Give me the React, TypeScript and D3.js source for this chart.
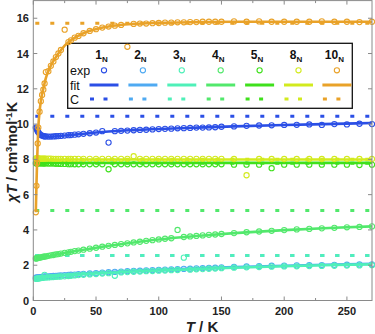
import React from 'react';
import * as d3 from 'd3';

// Temperatures (K) of the measured points
const temps = [2, 2.5, 3, 3.5, 4, 5, 6, 7, 8, 9,
  10, 12, 14, 16, 18, 20, 22, 25, 28, 30,
  33, 36, 40, 45, 50, 55, 60, 65, 70, 75,
  80, 85, 90, 95, 100, 105, 110, 115, 120, 125,
  130, 135, 140, 145, 150, 160, 170, 180, 190, 200,
  210, 220, 230, 240, 250, 260, 270];

const exp1N = [9.8, 9.75, 9.68, 9.6, 9.54, 9.45, 9.38, 9.35, 9.32, 9.3,
  9.3, 9.29, 9.29, 9.3, 9.31, 9.32, 9.33, 9.35, 9.37, 9.38,
  9.4, 9.42, 9.45, 9.48, 9.52, 9.6, 8.95, 9.6, 9.62, 9.63,
  9.65, 9.67, 9.68, 9.7, 9.72, 9.73, 9.74, 9.76, 9.77, 9.78,
  9.8, 9.8, 9.81, 9.82, 9.85, 9.87, 9.9, 9.92, 9.93, 9.95,
  9.96, 9.98, 9.95, 10.0, 9.98, 10.02, 10.0];

const exp2N = [1.29, 1.29, 1.3, 1.3, 1.31, 1.32, 1.33, 1.34, 1.35, 1.35,
  1.36, 1.37, 1.38, 1.39, 1.4, 1.41, 1.42, 1.44, 1.45, 1.46,
  1.47, 1.49, 1.51, 1.53, 1.55, 1.58, 1.6, 1.62, 1.64, 1.66,
  1.68, 1.69, 1.71, 1.72, 1.74, 1.75, 1.77, 1.78, 1.79, 1.8,
  1.82, 1.83, 1.85, 1.86, 1.88, 1.91, 1.93, 1.95, 1.97, 1.98,
  1.99, 2.0, 2.01, 2.02, 2.03, 2.04, 2.05];

const exp3N = [1.23, 1.23, 1.24, 1.24, 1.25, 1.26, 1.27, 1.28, 1.29, 1.45,
  1.3, 1.31, 1.32, 1.33, 1.34, 1.35, 1.36, 1.37, 1.39, 1.4,
  1.42, 1.44, 1.46, 1.48, 1.5, 1.53, 1.55, 1.4, 1.59, 1.61,
  1.63, 1.64, 1.66, 1.67, 1.69, 1.7, 1.72, 1.73, 2.43, 1.75,
  1.77, 1.78, 1.8, 1.81, 1.83, 1.86, 1.88, 1.9, 1.92, 1.93,
  1.94, 1.95, 1.96, 1.97, 1.98, 1.99, 2.0];

const exp4N = [2.38, 2.39, 2.4, 2.41, 2.42, 2.43, 2.45, 2.46, 2.48, 2.49,
  2.5, 2.53, 2.56, 2.58, 2.61, 2.63, 2.66, 2.7, 2.73, 2.76,
  2.8, 2.83, 2.88, 2.94, 2.99, 3.05, 3.1, 3.15, 3.2, 3.24,
  3.29, 3.33, 3.38, 3.42, 3.46, 3.5, 3.53, 4.0, 3.6, 3.63,
  3.66, 3.69, 3.72, 3.74, 3.77, 3.82, 3.87, 3.91, 3.95, 3.99,
  4.03, 4.06, 4.09, 4.12, 4.15, 4.17, 4.2];

const exp5N = [7.78, 7.78, 7.78, 7.78, 7.78, 7.78, 7.78, 7.77, 7.77, 7.77,
  7.77, 7.76, 7.76, 7.76, 7.75, 7.75, 7.74, 7.74, 7.73, 7.73,
  7.72, 7.72, 7.72, 7.72, 7.72, 7.72, 7.44, 7.72, 7.72, 7.72,
  7.72, 7.72, 7.72, 7.72, 7.72, 7.72, 7.72, 7.72, 7.72, 7.72,
  7.72, 7.72, 7.72, 7.72, 7.72, 7.7, 7.7, 7.7, 7.5, 7.7,
  7.7, 7.7, 7.7, 7.7, 7.7, 7.68, 7.7];

const exp8N = [8.05, 8.05, 8.05, 8.05, 8.05, 8.04, 8.04, 8.04, 8.04, 8.04,
  8.04, 8.04, 8.04, 8.03, 8.03, 8.03, 8.03, 8.03, 8.03, 8.03,
  8.03, 8.03, 8.03, 8.03, 8.03, 8.03, 8.03, 8.03, 8.03, 8.03,
  8.18, 8.03, 8.03, 8.03, 8.03, 8.03, 8.03, 8.03, 8.03, 8.03,
  8.03, 8.03, 8.03, 8.03, 8.03, 8.02, 7.1, 8.02, 8.02, 8.02,
  8.02, 8.02, 8.02, 8.02, 8.02, 8.02, 8.02];

const exp10N = [5.0, 6.5, 7.8, 8.9, 9.8, 10.7, 11.3, 11.65, 11.95, 12.3,
  12.95, 13.0, 13.3, 13.55, 13.8, 14.0, 14.2, 15.35, 14.65, 14.75,
  14.9, 15.0, 15.15, 15.28, 15.38, 15.47, 15.53, 15.58, 15.62, 14.38,
  15.68, 15.7, 15.7, 15.72, 15.73, 15.75, 15.75, 15.77, 15.77, 15.78,
  15.78, 15.8, 15.8, 15.8, 15.8, 15.82, 15.8, 15.82, 15.8, 15.8,
  15.8, 15.8, 15.82, 15.8, 15.8, 15.78, 15.8];

// Fit curves
const fitTemps = [2, 2.5, 3, 3.5, 4, 5, 6, 8, 10, 12, 15, 20, 25, 30, 40, 50, 60, 80, 100, 130, 160, 200, 240, 270];
const fit1N = [9.82, 9.75, 9.68, 9.6, 9.54, 9.45, 9.38, 9.32, 9.3, 9.29, 9.29, 9.32, 9.35, 9.38, 9.45, 9.52, 9.58, 9.66, 9.72, 9.8, 9.87, 9.95, 10.01, 10.06];
const fit2N = [1.3, 1.3, 1.31, 1.31, 1.32, 1.33, 1.34, 1.36, 1.37, 1.38, 1.4, 1.43, 1.46, 1.48, 1.53, 1.57, 1.61, 1.68, 1.74, 1.82, 1.89, 1.97, 2.04, 2.08];
const fit3N = [1.26, 1.26, 1.27, 1.27, 1.28, 1.29, 1.3, 1.32, 1.33, 1.34, 1.36, 1.39, 1.42, 1.44, 1.49, 1.53, 1.57, 1.64, 1.7, 1.78, 1.86, 1.94, 2.01, 2.05];
const fit4N = [2.38, 2.39, 2.4, 2.41, 2.42, 2.43, 2.45, 2.48, 2.5, 2.53, 2.57, 2.63, 2.7, 2.76, 2.88, 2.99, 3.1, 3.29, 3.46, 3.66, 3.82, 3.99, 4.12, 4.2];
const fit5N = [7.82, 7.82, 7.82, 7.82, 7.81, 7.81, 7.81, 7.81, 7.81, 7.8, 7.8, 7.8, 7.8, 7.8, 7.8, 7.8, 7.8, 7.8, 7.8, 7.8, 7.8, 7.8, 7.8, 7.8];
const fit8N = [8.0, 8.0, 8.0, 8.0, 8.0, 8.0, 8.0, 7.99, 7.99, 7.99, 7.99, 7.99, 7.99, 7.99, 7.99, 7.99, 7.99, 7.99, 7.99, 7.99, 7.99, 7.99, 7.99, 7.99];
const fit10N = [5.0, 6.5, 7.8, 8.9, 9.8, 10.7, 11.3, 12.0, 12.6, 13.0, 13.45, 14.0, 14.45, 14.75, 15.15, 15.38, 15.53, 15.68, 15.74, 15.78, 15.8, 15.8, 15.8, 15.8];

// Curie constants
const cValues = [10.45, 2.55, 2.55, 5.1, 7.78, 8.0, 15.72];

const seriesLabels = ['1', '2', '3', '4', '5', '8', '10'];
const seriesColors = ['#2b4fe6', '#4faaf2', '#4ff0b8', '#52e86c', '#3fe01c', '#d2ea1e', '#e9a229'];
const expSeries = [exp1N, exp2N, exp3N, exp4N, exp5N, exp8N, exp10N];
const fitSeries = [fit1N, fit2N, fit3N, fit4N, fit5N, fit8N, fit10N];

const xTicks = [0, 50, 100, 150, 200, 250];
const xMinorTicks = [25, 75, 125, 175, 225];
const yTicks = [0, 2, 4, 6, 8, 10, 12, 14, 16];

const FONT = '"Liberation Sans", Arial, sans-serif';

export default function App() {
  const W = 375;
  const H = 334;
  const x = d3.scaleLinear().domain([0, 270]).range([33.3, 372]);
  const y = d3.scaleLinear().domain([0, 17]).range([300.5, 0.6]);
  const line = d3
    .line<[number, number]>()
    .x((d) => x(d[0]))
    .y((d) => y(d[1]))
    .curve(d3.curveMonotoneX);

  const [x0, x1] = x.range();
  const [yb, yt] = y.range();

  // legend geometry
  const lgX0 = 67.7, lgY0 = 43.3, lgX1 = 352.3, lgY1 = 108.3;
  const colStart = 103.5, colStep = 38.9;

  return (
    <svg width={W} height={H} style={{ position: 'absolute', left: 0, top: 0, background: '#fff' }} fontFamily={FONT}>
      <rect x={0} y={0} width={W} height={H} fill="#fff" />
      {/* legend box */}
      <rect x={lgX0} y={lgY0} width={lgX1 - lgX0} height={lgY1 - lgY0} fill="#fff" stroke="#111" strokeWidth={1.3} />
      <text x={70} y={75} fontSize={12.5} fill="#111">exp</text>
      <text x={70} y={89.5} fontSize={12.5} fill="#111">fit</text>
      <text x={70} y={104} fontSize={12.5} fill="#111">C</text>
      {seriesLabels.map((lab, i) => {
        const cx = colStart + i * colStep + (i === 6 ? -0.5 : 0);
        return (
          <g key={'lg' + i}>
            <text x={cx - 2} y={58.5} fontSize={12} fontWeight="bold" textAnchor="middle" fill="#111">
              {lab}
              <tspan fontSize={8} dy={3}>N</tspan>
            </text>
            <circle cx={cx + 0.5} cy={70.3} r={2.6} fill="none" stroke={seriesColors[i]} strokeWidth={1.1} />
            <line x1={cx - 14} x2={cx + 15} y1={85} y2={85} stroke={seriesColors[i]} strokeWidth={3} />
            <line x1={cx - 13.5} x2={cx + 5} y1={99} y2={99} stroke={seriesColors[i]} strokeWidth={3} strokeDasharray="4 9.5" />
          </g>
        );
      })}

      {/* data */}
      {expSeries.map((vals, i) => {
        const col = seriesColors[i];
        const fitPts = fitTemps.map((t, k) => [t, fitSeries[i][k]] as [number, number]);
        return (
          <g key={'s' + i}>
            <line x1={x(0)} x2={x(270)} y1={y(cValues[i])} y2={y(cValues[i])} stroke={col} strokeWidth={3} strokeDasharray="4 11" strokeDashoffset={-2} />
            <path d={line(fitPts) || ''} fill="none" stroke={col} strokeWidth={2.6} />
            {vals.map((v, k) => (
              <circle key={k} cx={x(temps[k])} cy={y(v)} r={2.6} fill="none" stroke={col} strokeWidth={1.1} />
            ))}
          </g>
        );
      })}

      {/* frame */}
      <rect x={x0} y={yt} width={x1 - x0} height={yb - yt} fill="none" stroke="#8a8a8a" strokeWidth={1} />
      {xTicks.map((t) => (
        <g key={'xt' + t}>
          <line x1={x(t)} x2={x(t)} y1={yb} y2={yb - 4} stroke="#8a8a8a" />
          <line x1={x(t)} x2={x(t)} y1={yt} y2={yt + 4} stroke="#8a8a8a" />
          <text x={x(t)} y={315} fontSize={11} fontWeight="bold" textAnchor="middle" fill="#222">{t}</text>
        </g>
      ))}
      {xMinorTicks.map((t) => (
        <g key={'xm' + t}>
          <line x1={x(t)} x2={x(t)} y1={yb} y2={yb - 2.5} stroke="#8a8a8a" />
          <line x1={x(t)} x2={x(t)} y1={yt} y2={yt + 2.5} stroke="#8a8a8a" />
        </g>
      ))}
      {yTicks.map((t) => (
        <g key={'yt' + t}>
          <line x1={x0} x2={x0 + 4} y1={y(t)} y2={y(t)} stroke="#8a8a8a" />
          <line x1={x1} x2={x1 - 4} y1={y(t)} y2={y(t)} stroke="#8a8a8a" />
          <text x={29} y={y(t) + 4} fontSize={11} fontWeight="bold" textAnchor="end" fill="#222">{t}</text>
        </g>
      ))}

      {/* axis titles */}
      <text x={202} y={332} fontSize={15} fontWeight="bold" textAnchor="middle" fill="#222">
        <tspan fontStyle="italic">T</tspan> / K
      </text>
      <text transform="translate(17,152) rotate(-90)" fontSize={14.5} fontWeight="bold" textAnchor="middle" fill="#222">
        <tspan fontStyle="italic">χT</tspan> / cm<tspan fontSize={9.5} dy={-5}>3</tspan>
        <tspan dy={5}>mol</tspan><tspan fontSize={9.5} dy={-5}>-1</tspan><tspan dy={5}>K</tspan>
      </text>
    </svg>
  );
}
